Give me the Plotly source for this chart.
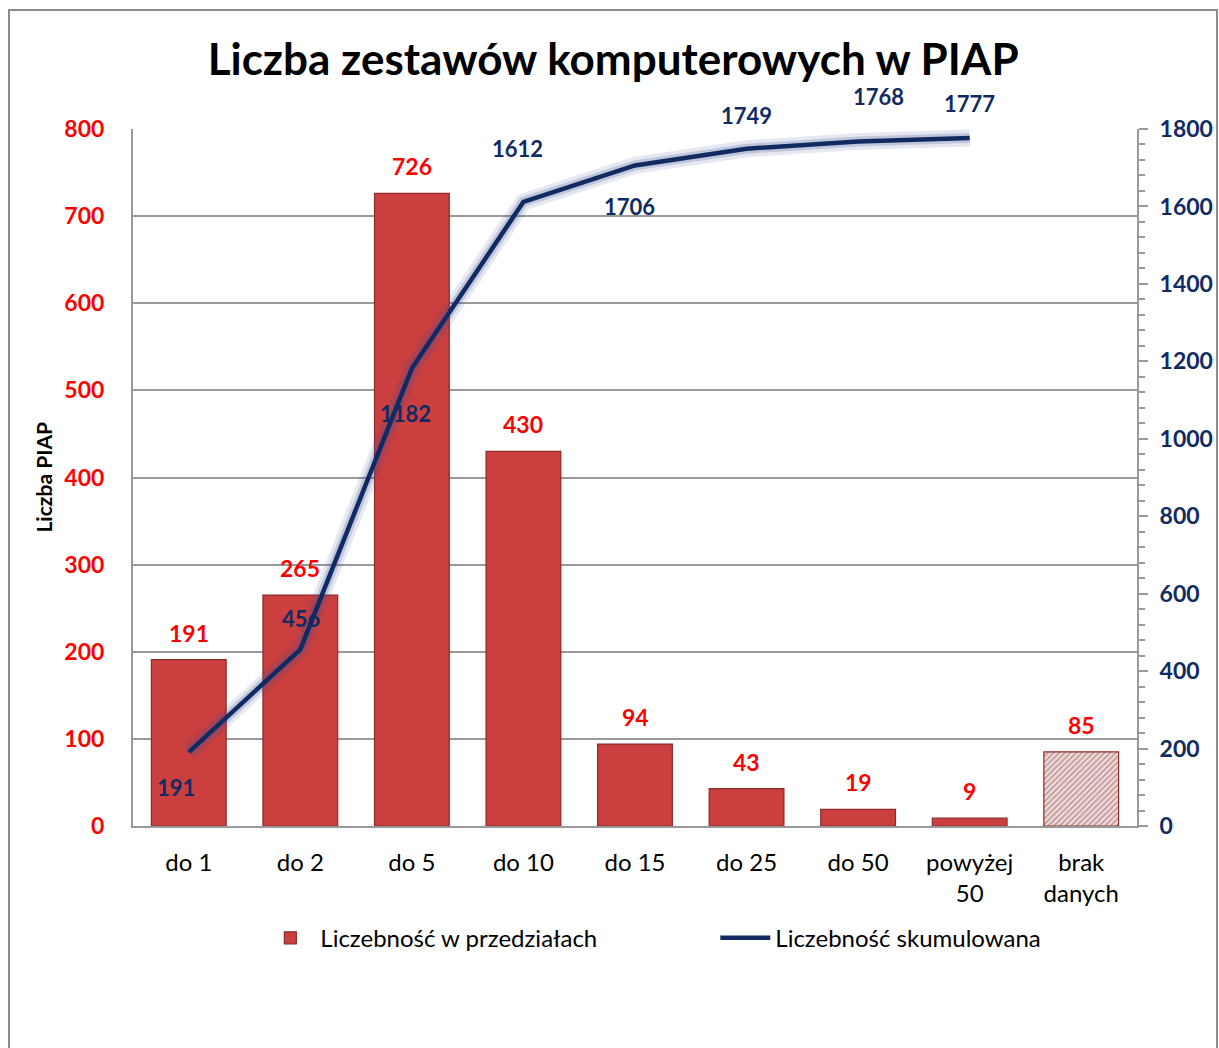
import plotly.graph_objects as go

categories = ["do 1", "do 2", "do 5", "do 10", "do 15", "do 25", "do 50", "powyżej<br>50", "brak<br>danych"]
counts = [191, 265, 726, 430, 94, 43, 19, 9, 85]
cum_categories = categories[:8]
cumulative = [191, 456, 1182, 1612, 1706, 1749, 1768, 1777]
left_ticks = list(range(0, 801, 100))
right_ticks = list(range(0, 1801, 200))

# label offsets in pixels (dx, dy) for cumulative labels (styling)
cum_offsets = [(-13, -35), (1, 31), (-6, -45), (-6, 53), (-6, -41), (0, 33), (20, 45), (0, 34)]

FONT = "Lato"
RED = "#FF0000"
NAVY = "#112B62"
GRID = "#999999"

bar_colors = ["#CC3F3F"] * 8 + ["#F8D6D6"]
bar_patterns = [""] * 8 + ["/"]

fig = go.Figure()
fig.add_trace(go.Bar(
    x=categories, y=counts, name="Liczebność w przedziałach",
    marker=dict(color=bar_colors, line=dict(color="#8A2A2A", width=1.2),
                pattern=dict(shape=bar_patterns, fgcolor="#E8A5A5", size=4, solidity=0.3)),
    yaxis="y", showlegend=True,
))
# glow
fig.add_trace(go.Scatter(x=cum_categories, y=cumulative, mode="lines", yaxis="y2",
                         line=dict(color="rgba(60,80,150,0.13)", width=17), showlegend=False, hoverinfo="skip"))
fig.add_trace(go.Scatter(x=cum_categories, y=cumulative, mode="lines", yaxis="y2",
                         line=dict(color="rgba(60,80,150,0.22)", width=10), showlegend=False, hoverinfo="skip"))
fig.add_trace(go.Scatter(x=cum_categories, y=cumulative, mode="lines", yaxis="y2",
                         name="Liczebność skumulowana", line=dict(color=NAVY, width=4.5)))

annotations = []
for c, v in zip(categories, counts):
    annotations.append(dict(x=c, y=v, xref="x", yref="y", text=str(v), showarrow=False,
                            yanchor="middle", yshift=27,
                            font=dict(family=FONT, size=23, color=RED, weight="bold")))
for c, v, (dx, dy) in zip(cum_categories, cumulative, cum_offsets):
    annotations.append(dict(x=c, y=v, xref="x", yref="y2", text=str(v), showarrow=False,
                            xshift=dx, yshift=dy, yanchor="middle",
                            font=dict(family=FONT, size=22, color=NAVY, weight="bold")))
annotations.append(dict(x=-0.0896, y=0.5, xref="paper", yref="paper", text="Liczba PIAP",
                        textangle=-90, showarrow=False, xanchor="center", yanchor="middle",
                        font=dict(family=FONT, size=21, color="black", weight="bold")))

fig.update_layout(
    width=1219, height=1048,
    margin=dict(l=133, r=82, t=129, b=222, autoexpand=False),
    paper_bgcolor="white", plot_bgcolor="white",
    bargap=0.33,
    title=dict(text="Liczba zestawów komputerowych w PIAP", x=0.503, xanchor="center",
               y=0.943, yanchor="middle",
               font=dict(family=FONT, size=44, color="black", weight="bold")),
    xaxis=dict(showline=True, linecolor=GRID, linewidth=2, ticks="", automargin=False,
               tickfont=dict(family=FONT, size=24, color="black"), ticklabelstandoff=14),
    yaxis=dict(range=[0, 800], tickvals=left_ticks, showgrid=True, gridcolor=GRID, gridwidth=1.5,
               showline=True, linecolor=GRID, linewidth=2, ticks="", zeroline=False, automargin=False,
               tickfont=dict(family=FONT, size=23, color=RED, weight="bold"), ticklabelstandoff=22),
    yaxis2=dict(range=[0, 1800], tickvals=right_ticks, overlaying="y", side="right", showgrid=False,
                showline=True, linecolor=GRID, linewidth=2, ticks="outside", ticklen=9, tickwidth=2,
                tickcolor=GRID, zeroline=False, automargin=False,
                minor=dict(dtick=40, ticks="outside", ticklen=6, tickwidth=1.5, tickcolor=GRID),
                tickfont=dict(family=FONT, size=23, color=NAVY, weight="bold"), ticklabelstandoff=7),
    legend=dict(orientation="h", x=0.58, xanchor="center", y=-0.161, yanchor="middle",
                font=dict(family=FONT, size=24, color="black"), itemwidth=50,
                entrywidth=390, traceorder="normal"),
    annotations=annotations,
    shapes=[dict(type="rect", xref="paper", yref="paper", x0=-0.1235, x1=1.0797, y0=-0.336, y1=1.1707,
                 line=dict(color="#8C8C8C", width=2), fillcolor="rgba(0,0,0,0)", layer="below")],
)
fig.write_html("out.html", config={"displayModeBar": False},
               post_script="document.body.style.margin='0';")
